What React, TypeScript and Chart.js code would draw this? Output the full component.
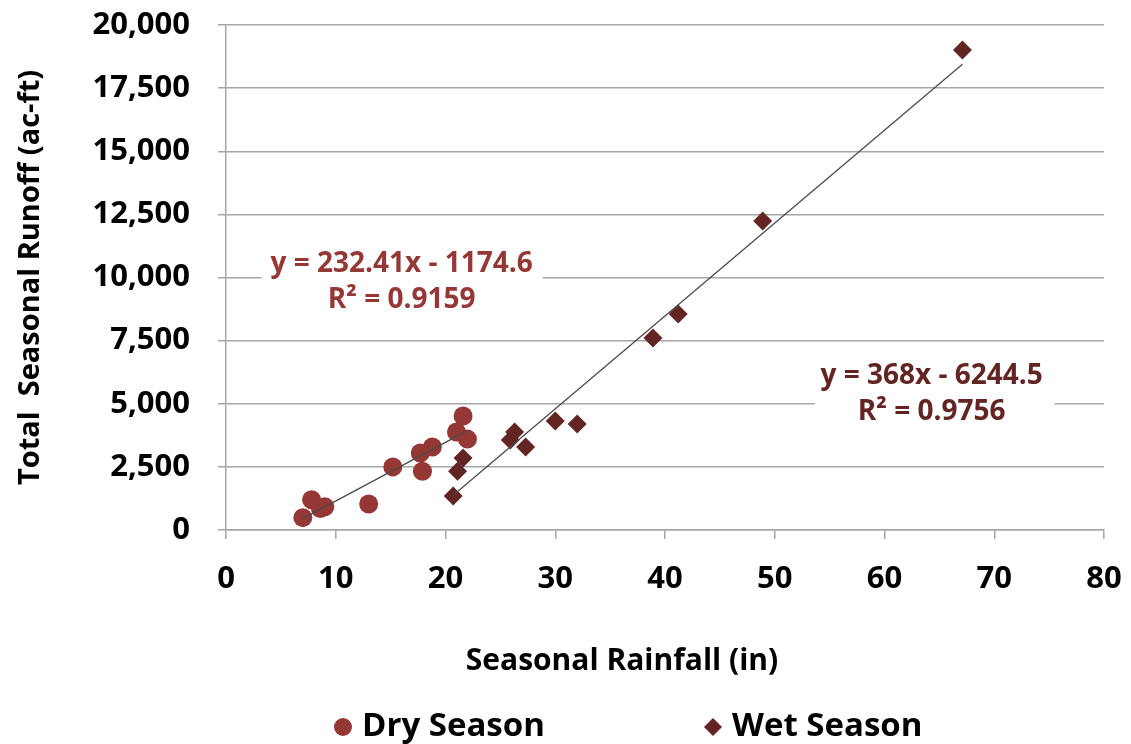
import { useEffect, useRef } from "react";
import { Chart, registerables } from "chart.js";

Chart.register(...registerables);

// Seasonal rainfall (in) vs. total seasonal runoff (ac-ft)
const dryRainfall = [7.0, 7.8, 8.6, 9.0, 13.0, 15.2, 17.7, 17.9, 18.8, 21.0, 21.6, 22.0];
const dryRunoff = [490, 1200, 850, 920, 1030, 2500, 3050, 2330, 3290, 3880, 4515, 3600];

const wetRainfall = [20.7, 21.1, 21.6, 25.9, 26.3, 27.3, 30.0, 32.0, 38.9, 41.2, 48.9, 67.1];
const wetRunoff = [1350, 2330, 2850, 3560, 3880, 3290, 4320, 4200, 7600, 8550, 12240, 19010];

// Linear trend fits: [slope, intercept, R²]
const dryFit = [232.41, -1174.6, 0.9159];
const wetFit = [368, -6244.5, 0.9756];

const xTicks = [0, 10, 20, 30, 40, 50, 60, 70, 80];
const yTicks = [0, 2500, 5000, 7500, 10000, 12500, 15000, 17500, 20000];

const DRY_COLOR = "#953735";
const WET_COLOR = "#632523";
const FONT = "'Open Sans', 'DejaVu Sans', sans-serif";

const toPoints = (xs: number[], ys: number[]) => xs.map((x, i) => ({ x, y: ys[i] }));

const trendPoints = (xs: number[], fit: number[]) => {
  const lo = Math.min(...xs);
  const hi = Math.max(...xs);
  return [lo, hi].map((x) => ({ x, y: fit[0] * x + fit[1] }));
};

const fmtEq = (fit: number[]) =>
  `y = ${fit[0]}x ${fit[1] < 0 ? "-" : "+"} ${Math.abs(fit[1])}`;

const overlay = {
  id: "overlay",
  beforeDatasetsDraw(chart: any) {
    const { ctx, scales } = chart;
    const x = scales.x;
    const y = scales.y;
    ctx.save();
    ctx.fillStyle = "#ffffff";
    // label backgrounds that mask the gridlines
    const dx = x.getPixelForValue(16);
    const dy = y.getPixelForValue(9822);
    ctx.fillRect(dx - 140, dy - 38, 281, 76);
    const wx = x.getPixelForValue(64.3);
    const wy = y.getPixelForValue(5386);
    ctx.fillRect(wx - 117, wy - 38, 240, 76);
    ctx.restore();
  },
  afterDraw(chart: any) {
    const { ctx, scales } = chart;
    const x = scales.x;
    const y = scales.y;
    ctx.save();
    ctx.textAlign = "center";
    ctx.textBaseline = "middle";
    ctx.font = `bold 28px ${FONT}`;

    const dx = x.getPixelForValue(16);
    const dy = y.getPixelForValue(9822);
    ctx.fillStyle = DRY_COLOR;
    ctx.fillText(fmtEq(dryFit), dx, dy - 18);
    ctx.fillText(`R² = ${dryFit[2]}`, dx, dy + 18);

    const wx = x.getPixelForValue(64.3);
    const wy = y.getPixelForValue(5386);
    ctx.fillStyle = WET_COLOR;
    ctx.fillText(fmtEq(wetFit), wx, wy - 18);
    ctx.fillText(`R² = ${wetFit[2]}`, wx, wy + 18);

    // x-axis title
    ctx.fillStyle = "#000000";
    ctx.font = `bold 30px ${FONT}`;
    ctx.textBaseline = "alphabetic";
    ctx.fillText("Seasonal Rainfall (in)", 622, 670);

    // legend
    const ly = 727;
    ctx.textAlign = "left";
    ctx.textBaseline = "middle";
    ctx.font = `bold 33px ${FONT}`;
    ctx.fillStyle = DRY_COLOR;
    ctx.beginPath();
    ctx.arc(343, ly, 9, 0, Math.PI * 2);
    ctx.fill();
    ctx.fillStyle = "#000000";
    ctx.fillText("Dry Season", 362, ly);

    ctx.fillStyle = WET_COLOR;
    ctx.beginPath();
    ctx.moveTo(713, ly - 9);
    ctx.lineTo(722, ly);
    ctx.lineTo(713, ly + 9);
    ctx.lineTo(704, ly);
    ctx.closePath();
    ctx.fill();
    ctx.fillStyle = "#000000";
    ctx.fillText("Wet Season", 732, ly);
    ctx.restore();
  },
};

export default function App() {
  const ref = useRef<HTMLCanvasElement>(null);

  useEffect(() => {
    document.body.style.margin = "0";
    const canvas = ref.current;
    if (!canvas) return;
    const chart = new Chart(canvas, {
      type: "scatter",
      data: {
        datasets: [
          {
            type: "line",
            label: "Dry trend",
            data: trendPoints(dryRainfall, dryFit),
            borderColor: "#4a4a4a",
            borderWidth: 1.3,
            pointRadius: 0,
            fill: false,
            order: 0,
          },
          {
            type: "line",
            label: "Wet trend",
            data: trendPoints(wetRainfall, wetFit),
            borderColor: "#4a4a4a",
            borderWidth: 1.3,
            pointRadius: 0,
            fill: false,
            order: 0,
          },
          {
            label: "Dry Season",
            data: toPoints(dryRainfall, dryRunoff),
            pointStyle: "circle",
            pointRadius: 9.5,
            pointBackgroundColor: DRY_COLOR,
            pointBorderWidth: 0,
            order: 2,
          },
          {
            label: "Wet Season",
            data: toPoints(wetRainfall, wetRunoff),
            pointStyle: "rectRot",
            pointRadius: 9.5,
            pointBackgroundColor: WET_COLOR,
            pointBorderWidth: 0,
            order: 1,
          },
        ],
      },
      options: {
        responsive: false,
        animation: false,
        layout: { padding: { top: 25, right: 27, left: 0, bottom: 0 } },
        plugins: {
          legend: { display: false },
          tooltip: { enabled: false },
        },
        scales: {
          x: {
            type: "linear",
            min: 0,
            max: 80,
            afterBuildTicks: (s: any) => {
              s.ticks = xTicks.map((v) => ({ value: v }));
            },
            afterFit: (s: any) => {
              s.height = 214;
              s.paddingLeft = 0;
              s.paddingRight = 0;
            },
            grid: {
              drawOnChartArea: false,
              drawTicks: true,
              tickLength: 9,
              color: "#a6a6a6",
              lineWidth: 1.5,
            },
            border: { color: "#a6a6a6", width: 1.5 },
            ticks: {
              color: "#000000",
              font: { family: FONT, size: 31, weight: "bold" },
              padding: 22,
              maxRotation: 0,
            },
          },
          y: {
            type: "linear",
            min: 0,
            max: 20000,
            afterBuildTicks: (s: any) => {
              s.ticks = yTicks.map((v) => ({ value: v }));
            },
            afterFit: (s: any) => {
              s.width = 226;
              s.paddingTop = 0;
              s.paddingBottom = 0;
            },
            grid: {
              color: "#a6a6a6",
              lineWidth: 1.5,
              drawTicks: true,
              tickLength: 8,
            },
            border: { color: "#a6a6a6", width: 1.5 },
            ticks: {
              color: "#000000",
              font: { family: FONT, size: 31, weight: "bold" },
              padding: 28,
              callback: (v: any) => Number(v).toLocaleString("en-US"),
            },
            title: {
              display: true,
              text: "Total  Seasonal Runoff (ac-ft)",
              color: "#000000",
              font: { family: FONT, size: 29, weight: "bold" },
              padding: { top: 13, bottom: 0 },
            },
          },
        },
      },
      plugins: [overlay],
    });
    return () => chart.destroy();
  }, []);

  return (
    <div style={{ width: 1131, height: 744 }}>
      <canvas ref={ref} width={1131} height={744} />
    </div>
  );
}
